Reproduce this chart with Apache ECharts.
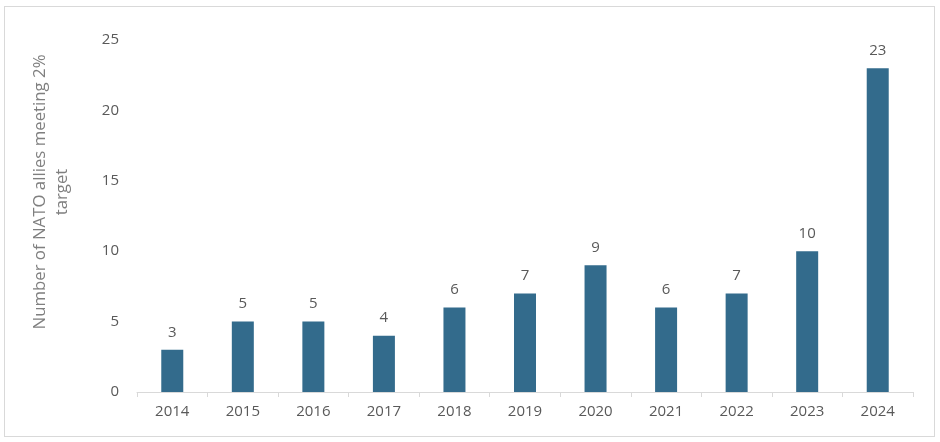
<!DOCTYPE html>
<html>
<head>
<meta charset="utf-8">
<script src="https://cdn.jsdelivr.net/npm/echarts@6/dist/echarts.min.js"></script>
<style>
html,body{margin:0;padding:0;background:#fff;}
#frame{position:absolute;left:4px;top:6px;width:929px;height:429px;border:1px solid #d9d9d9;}
#chart{position:absolute;left:0;top:0;width:940px;height:442px;}
</style>
</head>
<body>
<div id="frame"></div>
<div id="chart"></div>
<script>
const years = ['2014','2015','2016','2017','2018','2019','2020','2021','2022','2023','2024'];
const allies = [3,5,5,4,6,7,9,6,7,10,23];
const yTitle = 'Number of NATO allies meeting 2%\ntarget';

const chart = echarts.init(document.getElementById('chart'));
chart.setOption({
  animation:false,
  textStyle:{fontFamily:'Open Sans'},
  grid:{left:137,right:27,top:40,bottom:50},
  xAxis:{
    type:'category',data:years,
    axisLine:{lineStyle:{color:'#d9d9d9',width:1}},
    axisTick:{show:true,length:5,lineStyle:{color:'#d9d9d9'}},
    axisLabel:{color:'#595959',fontSize:15,margin:12}
  },
  yAxis:{
    type:'value',min:0,max:25,interval:5,
    splitLine:{show:false},
    axisLine:{show:false},axisTick:{show:false},
    axisLabel:{color:'#595959',fontSize:15,margin:18}
  },
  graphic:[{
    type:'text',
    x:51,y:192,rotation:Math.PI/2,
    style:{text:yTitle,fill:'#7f7f7f',font:'16.8px "Open Sans"',align:'center',verticalAlign:'middle',lineHeight:22}
  }],
  series:[{
    type:'bar',data:allies,barWidth:22,
    itemStyle:{color:'#336b8c'},
    label:{show:true,position:'top',distance:10,color:'#595959',fontSize:15}
  }]
});
</script>
</body>
</html>
